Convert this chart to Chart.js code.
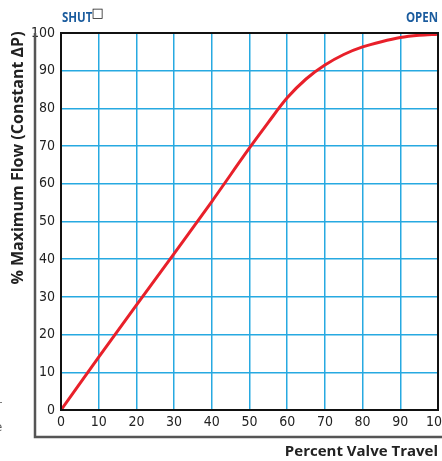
<!DOCTYPE html>
<html>
<head>
<meta charset="utf-8">
<script src="https://cdn.jsdelivr.net/npm/chart.js@4/dist/chart.umd.min.js"></script>
<style>
  html, body { margin: 0; padding: 0; background: #fff; }
  #wrap { width: 442px; height: 461px; position: relative; }
</style>
</head>
<body>
<div id="wrap"><canvas id="flow-chart" width="442" height="461"></canvas></div>
<script>
// ── Data ──────────────────────────────────────────────────────────────────────

const travel = [0, 10, 20, 30, 40, 50, 55, 60, 65, 70, 75, 80, 85, 90, 95, 100];
const flow   = [0, 14, 27.8, 41.5, 55.3, 69.5, 76.3, 82.8, 87.8, 91.5, 94.3, 96.3, 97.7, 98.8, 99.4, 99.7];

const yTitle  = "% Maximum Flow (Constant \u0394P)";
const xTitle  = "Percent Valve Travel";
const leftTag = "SHUT";
const rightTag = "OPEN";

// ── Styles ────────────────────────────────────────────────────────────────────

const GRID  = "#27a9e1";
const CURVE = "#e8202a";
const TAG   = "#1b5c9e";
const INK   = "#222";
const NARROW = "'Liberation Sans Narrow', 'DejaVu Sans Condensed', 'Roboto Condensed', sans-serif";
const BOLD   = "'Open Sans', 'Liberation Sans', sans-serif";

// squeeze text horizontally to mimic a condensed face
function narrowText(ctx, text, x, y, align, squeeze) {
  const w = ctx.measureText(text).width * squeeze;
  const x0 = align === "right" ? x - w : x;
  ctx.save();
  ctx.textAlign = "left";
  ctx.translate(x0, y);
  ctx.scale(squeeze, 1);
  ctx.fillText(text, 0, 0);
  ctx.restore();
  return w;
}

// ── Frame + text plugin ───────────────────────────────────────────────────────

const decor = {
  id: "decor",
  afterDraw(chart) {
    const { ctx, chartArea: a } = chart;
    ctx.save();

    // plot frame
    ctx.strokeStyle = "#111";
    ctx.lineWidth = 2;
    ctx.strokeRect(a.left, a.top, a.right - a.left, a.bottom - a.top);

    // outer frame (left + bottom)
    ctx.strokeStyle = "#555";
    ctx.lineWidth = 2.5;
    ctx.beginPath();
    ctx.moveTo(35, a.top);
    ctx.lineTo(35, 437);
    ctx.lineTo(442, 437);
    ctx.stroke();

    // SHUT / OPEN
    ctx.textBaseline = "middle";
    ctx.fillStyle = TAG;
    ctx.font = "bold 14px " + BOLD;
    const w = narrowText(ctx, leftTag, a.left + 1, 18, "left", 0.82);
    ctx.fillStyle = "#111";
    ctx.font = "13px 'DejaVu Sans', sans-serif";
    ctx.textAlign = "left";
    ctx.fillText("\u25A1", a.left + w, 14);
    ctx.fillStyle = TAG;
    ctx.font = "bold 14px " + BOLD;
    narrowText(ctx, rightTag, a.right, 18, "right", 0.82);

    // axis titles
    ctx.fillStyle = INK;
    ctx.font = "bold 15px " + BOLD;
    ctx.textAlign = "right";
    ctx.fillText(xTitle, a.right, 452);

    ctx.font = "bold 16px " + BOLD;
    ctx.translate(18, 158);
    ctx.rotate(-Math.PI / 2);
    ctx.textAlign = "center";
    ctx.fillText(yTitle, 0, 0);
    ctx.restore();

    // cut-off text from neighbouring column
    ctx.save();
    ctx.fillStyle = "#555";
    ctx.font = "13px " + NARROW;
    ctx.textBaseline = "middle";
    ctx.textAlign = "left";
    ctx.fillText("r", -3, 406);
    ctx.fillText("e", -5, 428);
    ctx.restore();
  },
};

// ── Chart ─────────────────────────────────────────────────────────────────────

const tickFont = { family: NARROW, size: 14 };

new Chart(document.getElementById("flow-chart"), {
  type: "line",
  data: {
    datasets: [{
      data: travel.map((t, i) => ({ x: t, y: flow[i] })),
      borderColor: CURVE,
      borderWidth: 3,
      pointRadius: 0,
      fill: false,
      cubicInterpolationMode: "monotone",
    }],
  },
  options: {
    responsive: false,
    animation: false,
    layout: { padding: { top: 33, right: 4, bottom: 0, left: 0 } },
    plugins: { legend: { display: false }, tooltip: { enabled: false } },
    scales: {
      x: {
        type: "linear",
        min: 0, max: 100,
        ticks: { stepSize: 10, color: INK, font: tickFont, padding: 4, maxRotation: 0 },
        grid: { color: GRID, lineWidth: 1.5, drawTicks: false },
        border: { display: false },
        afterFit(s) { s.height = 51; s.paddingLeft = 0; s.paddingRight = 0; },
      },
      y: {
        min: 0, max: 100,
        ticks: { stepSize: 10, color: INK, font: tickFont, padding: 6 },
        grid: { color: GRID, lineWidth: 1.5, drawTicks: false },
        border: { display: false },
        afterFit(s) { s.width = 61; s.paddingTop = 0; s.paddingBottom = 0; },
      },
    },
  },
  plugins: [decor],
});
</script>
</body>
</html>
